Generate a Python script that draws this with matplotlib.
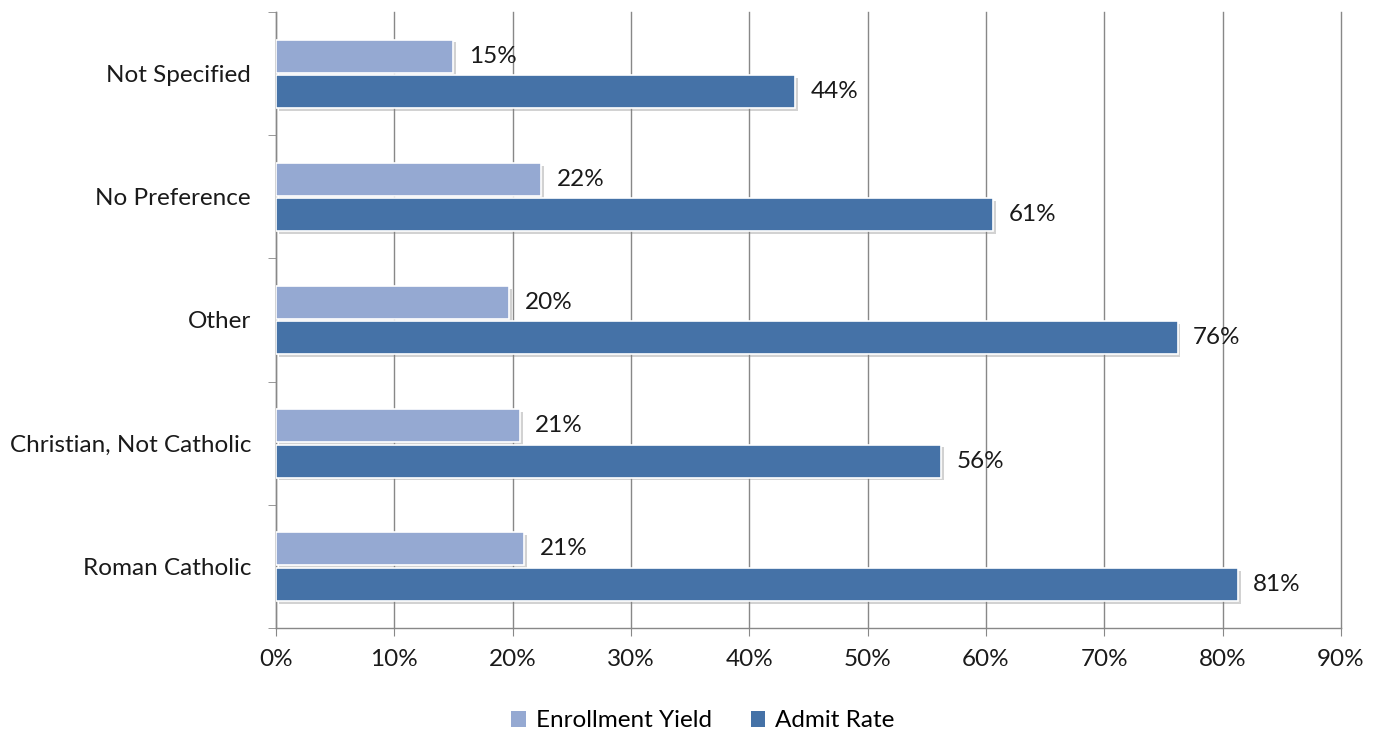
import matplotlib.pyplot as plt
import matplotlib.patheffects as pe
import numpy as np

plt.rcParams['font.family'] = ['Lato', 'DejaVu Sans']

categories = ["Roman Catholic", "Christian, Not Catholic", "Other", "No Preference", "Not Specified"]
enrollment_yield = [21.0, 20.6, 19.7, 22.4, 15.0]
admit_rate = [81.3, 56.2, 76.2, 60.6, 43.9]
yield_labels = ["21%", "21%", "20%", "22%", "15%"]
admit_labels = ["81%", "56%", "76%", "61%", "44%"]

c_yield = "#95a9d2"
c_admit = "#4572a7"
fs = 17.5

fig = plt.figure(figsize=(13.78, 7.32), dpi=100)
ax = fig.add_axes([0.2003, 0.1421, 0.7728, 0.8415])

y = np.arange(len(categories))
h = 0.268
shadow = [pe.SimplePatchShadow(offset=(2, -2), shadow_rgbFace="#808080", alpha=0.35), pe.Normal()]

b1 = ax.barh(y + 0.142, enrollment_yield, height=h, color=c_yield, edgecolor="white",
             linewidth=1.2, label="Enrollment Yield", zorder=3, path_effects=shadow)
b2 = ax.barh(y - 0.146, admit_rate, height=h, color=c_admit, edgecolor="white",
             linewidth=1.2, label="Admit Rate", zorder=3, path_effects=shadow)

for i in range(len(categories)):
    ax.text(enrollment_yield[i] + 1.3, y[i] + 0.142, yield_labels[i], va="center", ha="left",
            fontsize=fs, color="#1a1a1a")
    ax.text(admit_rate[i] + 1.3, y[i] - 0.146, admit_labels[i], va="center", ha="left",
            fontsize=fs, color="#1a1a1a")

ax.set_xlim(0, 90)
ax.set_ylim(-0.5, len(categories) - 0.5)
ax.set_xticks(np.arange(0, 91, 10))
ax.set_xticklabels([f"{v}%" for v in range(0, 91, 10)], fontsize=fs, color="#1a1a1a")
ax.set_yticks(y)
ax.set_yticklabels(categories, fontsize=fs, color="#1a1a1a")
ax.set_yticks(np.arange(-0.5, len(categories), 1), minor=True)
ax.tick_params(axis="y", which="major", length=0, pad=18)
ax.tick_params(axis="y", which="minor", length=6, color="#888888", direction="out")
ax.tick_params(axis="x", length=6, color="#888888", direction="out", pad=9)

ax.grid(axis="x", color="#888888", linewidth=1, zorder=0)
for gl in ax.get_xgridlines():
    gl.set_clip_on(False)
for s in ["top", "right"]:
    ax.spines[s].set_visible(False)
for s in ["left", "bottom"]:
    ax.spines[s].set_color("#888888")
    ax.spines[s].set_linewidth(1)

leg = fig.legend(handles=[b1, b2], loc="lower center", bbox_to_anchor=(0.51, -0.029), ncol=2,
                 frameon=False, fontsize=fs, handlelength=0.6, handleheight=0.6,
                 handletextpad=0.4, columnspacing=1.6)
for hnd in leg.legend_handles:
    hnd.set_path_effects([])
    hnd.set_edgecolor("none")

fig.savefig("out.png", dpi=100)
